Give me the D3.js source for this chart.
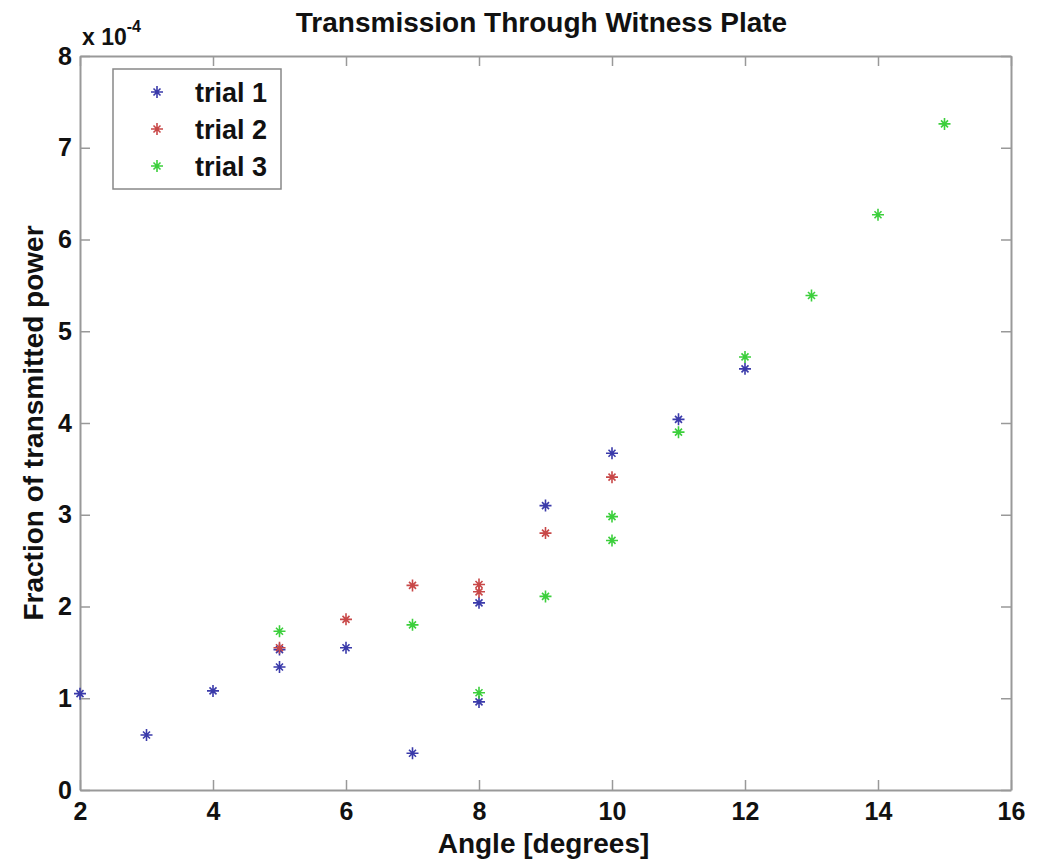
<!DOCTYPE html>
<html>
<head>
<meta charset="utf-8">
<script src="https://d3js.org/d3.v7.min.js"></script>
<style>
  body { margin: 0; background: #fff; }
  text { font-family: "Liberation Sans", Arial, sans-serif; font-weight: bold; fill: #111; }
</style>
</head>
<body>
<div id="chart"></div>
<script>
// data (y in units of 1e-4)
var trialNames = ["trial 1", "trial 2", "trial 3"];
var trialColors = ["#3a3aaa", "#c84848", "#3ccf3c"];

var trial1X = [2, 3, 4, 5, 5, 6, 7, 8, 8, 9, 10, 11, 12];
var trial1Y = [1.05, 0.60, 1.08, 1.34, 1.53, 1.55, 0.40, 0.96, 2.04, 3.10, 3.67, 4.04, 4.59];

var trial2X = [5, 6, 7, 8, 8, 9, 10];
var trial2Y = [1.55, 1.86, 2.23, 2.24, 2.16, 2.80, 3.41];

var trial3X = [5, 7, 8, 9, 10, 10, 11, 12, 13, 14, 15];
var trial3Y = [1.73, 1.80, 1.06, 2.11, 2.98, 2.72, 3.90, 4.72, 5.39, 6.27, 7.26];

var xTicks = [2, 4, 6, 8, 10, 12, 14, 16];
var yTicks = [0, 1, 2, 3, 4, 5, 6, 7, 8];

// set the dimensions and margins of the graph
var margin = {top: 56, right: 34, bottom: 72, left: 80},
    width = 1045 - margin.left - margin.right,
    height = 862 - margin.top - margin.bottom;

var svg = d3.select("#chart")
  .append("svg")
    .attr("width", 1045)
    .attr("height", 862)
  .append("g")
    .attr("transform", "translate(" + margin.left + "," + margin.top + ")");

var x = d3.scaleLinear().domain([2, 16]).range([0, width]);
var y = d3.scaleLinear().domain([0, 8]).range([height, 0]);

// axes, ticks pointing inward, box on all sides
function styleAxis(g) {
  g.selectAll("path").attr("stroke", "#999").attr("stroke-width", 2);
  g.selectAll("line").attr("stroke", "#999").attr("stroke-width", 1.5);
  g.selectAll("text").style("font-size", "25px").attr("fill", "#111");
}

svg.append("g")
  .attr("transform", "translate(0," + height + ")")
  .call(d3.axisBottom(x).tickValues(xTicks).tickSize(-10).tickSizeOuter(0).tickPadding(12))
  .call(styleAxis);

svg.append("g")
  .call(d3.axisTop(x).tickValues(xTicks).tickSize(-10).tickSizeOuter(0).tickFormat(""))
  .call(styleAxis);

svg.append("g")
  .call(d3.axisLeft(y).tickValues(yTicks).tickSize(-10).tickSizeOuter(0).tickPadding(8))
  .call(styleAxis);

svg.append("g")
  .attr("transform", "translate(" + width + ",0)")
  .call(d3.axisRight(y).tickValues(yTicks).tickSize(-10).tickSizeOuter(0).tickFormat(""))
  .call(styleAxis);

// asterisk marker
function star(sel, color) {
  sel.append("path")
    .attr("d", "M-6,0H6M0,-6V6M-3.5,-3.5L3.5,3.5M-3.5,3.5L3.5,-3.5")
    .attr("stroke", color)
    .attr("stroke-width", 1.6)
    .attr("fill", "none");
}

var trials = [
  {x: trial1X, y: trial1Y},
  {x: trial2X, y: trial2Y},
  {x: trial3X, y: trial3Y}
];

trials.forEach(function(t, i) {
  var pts = t.x.map(function(v, j) { return [v, t.y[j]]; });
  svg.append("g").selectAll("g")
    .data(pts)
    .enter().append("g")
      .attr("transform", function(d) { return "translate(" + x(d[0]) + "," + y(d[1]) + ")"; })
      .each(function() { star(d3.select(this), trialColors[i]); });
});

// exponent label
var expo = svg.append("text")
  .attr("x", 2)
  .attr("y", -11)
  .style("font-size", "23px");
expo.append("tspan").text("x 10");
expo.append("tspan").attr("dy", -13).style("font-size", "16px").text("-4");

// title
svg.append("text")
  .attr("x", width / 2 - 4)
  .attr("y", -24)
  .attr("text-anchor", "middle")
  .style("font-size", "28px")
  .text("Transmission Through Witness Plate");

// axis labels
svg.append("text")
  .attr("x", width / 2 - 2)
  .attr("y", height + 63)
  .attr("text-anchor", "middle")
  .style("font-size", "28px")
  .text("Angle [degrees]");

svg.append("text")
  .attr("transform", "translate(-37," + (height / 2) + ") rotate(-90)")
  .attr("text-anchor", "middle")
  .style("font-size", "28px")
  .text("Fraction of transmitted power");

// legend
var legend = svg.append("g").attr("transform", "translate(33,13)");
legend.append("rect")
  .attr("width", 168)
  .attr("height", 120)
  .attr("fill", "#fff")
  .attr("stroke", "#888")
  .attr("stroke-width", 1.5);

trialNames.forEach(function(name, i) {
  var row = legend.append("g").attr("transform", "translate(0," + (23 + i * 37) + ")");
  row.append("g").attr("transform", "translate(44,0)").call(function(g) { star(g, trialColors[i]); });
  row.append("text")
    .attr("x", 82)
    .attr("y", 10)
    .style("font-size", "27px")
    .text(name);
});
</script>
</body>
</html>
